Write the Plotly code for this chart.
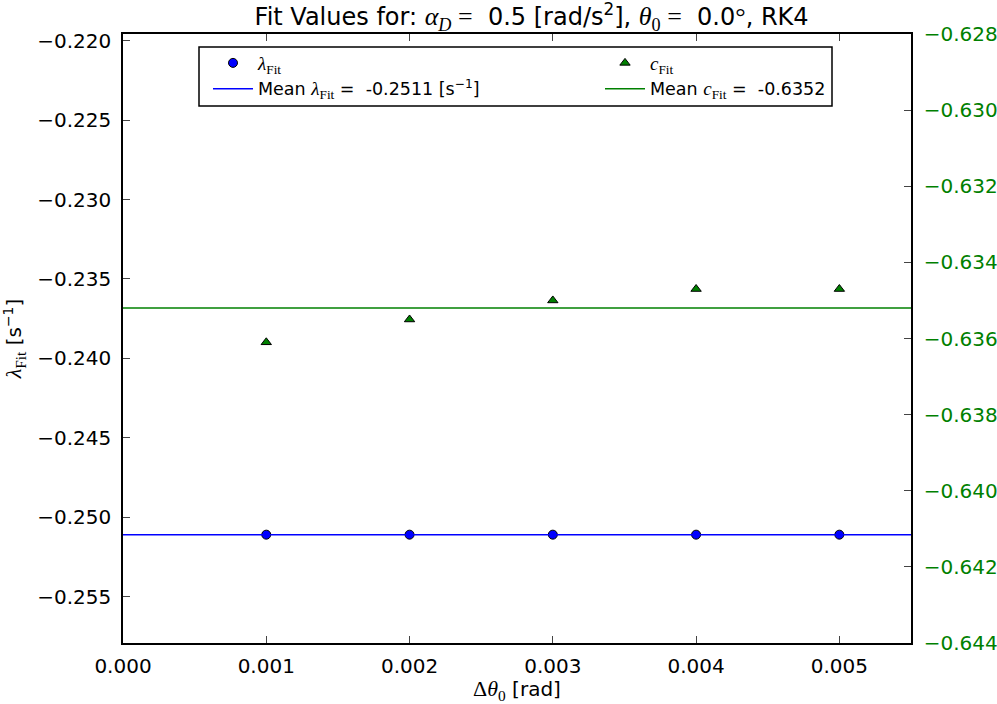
import plotly.graph_objects as go

# Fit results for each initial-angle step
dtheta = [0.001, 0.002, 0.003, 0.004, 0.005]
lambda_fit = [-0.2511, -0.2511, -0.2511, -0.2511, -0.2511]
c_fit = [-0.6361, -0.6355, -0.6350, -0.6347, -0.6347]

mean_lambda = -0.2511
mean_c = -0.6352

x_range = [0.0, 0.0055]
x_ticks = [0.000, 0.001, 0.002, 0.003, 0.004, 0.005]
left_ticks = [-0.220, -0.225, -0.230, -0.235, -0.240, -0.245, -0.250, -0.255]
right_ticks = [-0.628, -0.630, -0.632, -0.634, -0.636, -0.638, -0.640, -0.642, -0.644]

SANS = "DejaVu Sans"
SERIF = "Liberation Serif"
NB = "\u00a0"

# plot-area geometry in pixels
W, H = 997, 704
L, R, T, B = 123, 86, 34, 61
PW, PH = W - L - R, H - T - B


def m(s, size=None):
    """Wrap text in a serif span to mimic math typesetting."""
    sz = f";font-size:{size}px" if size else ""
    return f"<span style='font-family:{SERIF}{sz}'>{s}</span>"


def px_x(px):
    return (px - L) / PW


def px_y(py):
    return (H - B - py) / PH


lam_sym = m("<i>λ</i><sub>Fit</sub>", 19)
c_sym = m("<i>c</i><sub>Fit</sub>", 19)

fig = go.Figure()

fig.add_trace(go.Scatter(
    x=dtheta, y=lambda_fit, mode="markers", name=lam_sym,
    marker=dict(symbol="circle", size=9, color="#0000ff",
                line=dict(color="black", width=1)),
    yaxis="y", legend="legend",
))
fig.add_trace(go.Scatter(
    x=x_range, y=[mean_lambda, mean_lambda], mode="lines",
    name=f"Mean {lam_sym} ={NB} {mean_lambda:.4f} [s<sup>−1</sup>]",
    line=dict(color="#0000ff", width=1.5), yaxis="y", legend="legend",
))
fig.add_trace(go.Scatter(
    x=dtheta, y=c_fit, mode="markers", name=c_sym,
    marker=dict(symbol="triangle-up", size=9, color="#008000",
                line=dict(color="black", width=1)),
    yaxis="y2", legend="legend2",
))
fig.add_trace(go.Scatter(
    x=x_range, y=[mean_c, mean_c], mode="lines",
    name=f"Mean {c_sym} ={NB} {mean_c:.4f}",
    line=dict(color="#008000", width=1.5), yaxis="y2", legend="legend2",
))

tick_font = dict(family=SANS, size=20, color="black")
axis_common = dict(
    showgrid=False, zeroline=False, automargin=False,
    showline=True, linecolor="black", linewidth=1.5,
    ticks="inside", ticklen=7, tickcolor="#444", tickwidth=1,
)
legend_common = dict(
    orientation="v", xanchor="left", yanchor="top",
    borderwidth=0, bgcolor="rgba(0,0,0,0)",
    font=dict(family=SANS, size=17.5, color="black"),
    itemwidth=40, tracegroupgap=0,
)

title_text = (
    "Fit Values for: " + m("<i>α<sub>D</sub></i> =", 26) + NB +
    " 0.5 [rad/s<sup>2</sup>], " + m("<i>θ</i><sub>0</sub> =", 26) + NB +
    " 0.0" + m("°", 26) + ", RK4"
)

fig.update_layout(
    width=W, height=H,
    margin=dict(l=L, r=R, t=T, b=B, autoexpand=False),
    paper_bgcolor="white", plot_bgcolor="white",
    font=dict(family=SANS, size=20, color="black"),
    title=dict(
        text=title_text,
        x=(L + PW / 2) / W, xanchor="center", xref="paper",
        y=1 - 17 / H, yanchor="middle", yref="container",
        font=dict(family=SANS, size=24, color="black"),
    ),
    xaxis=dict(
        range=x_range, tickvals=x_ticks,
        ticktext=[f"{v:.3f}" for v in x_ticks],
        mirror="ticks", tickfont=tick_font, ticklabelstandoff=4,
        title=dict(text=m("Δ<i>θ</i><sub>0</sub>", 22) + " [rad]",
                   font=dict(family=SANS, size=20), standoff=6),
        **axis_common,
    ),
    yaxis=dict(
        range=[-0.25792, -0.21958], tickvals=left_ticks,
        ticktext=[f"−{abs(v):.3f}" for v in left_ticks],
        tickfont=tick_font, ticklabelstandoff=6,
        title=dict(text=m("<i>λ</i><sub>Fit</sub>", 22) + " [s<sup>−1</sup>]",
                   font=dict(family=SANS, size=20), standoff=14),
        **axis_common,
    ),
    yaxis2=dict(
        range=[-0.644, -0.628], tickvals=right_ticks,
        ticktext=[f"−{abs(v):.3f}" for v in right_ticks],
        overlaying="y", side="right",
        tickfont=dict(family=SANS, size=20, color="#008000"),
        ticklabelstandoff=7,
        **axis_common,
    ),
    legend=dict(x=px_x(208), y=px_y(45), **legend_common),
    legend2=dict(x=px_x(600), y=px_y(45), **legend_common),
    showlegend=True,
    shapes=[dict(
        type="rect", xref="paper", yref="paper", layer="above",
        x0=px_x(199), x1=px_x(832), y0=px_y(106), y1=px_y(47),
        line=dict(color="black", width=1.5), fillcolor="rgba(0,0,0,0)",
    )],
)

fig.write_html("out.html")
